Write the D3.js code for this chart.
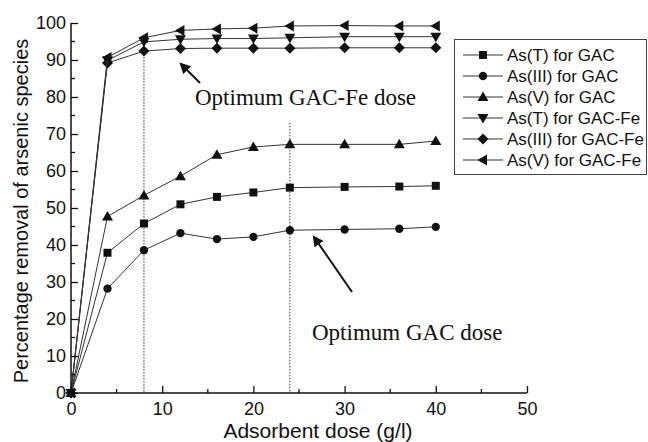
<!DOCTYPE html>
<html>
<head>
<meta charset="utf-8">
<script src="https://cdn.jsdelivr.net/npm/d3@7"></script>
<style>
  body { margin: 0; background: #fff; }
  svg { display: block; }
</style>
</head>
<body>
<div id="chart"></div>
<script>
// adsorbent doses (g/l)
const doses = [0, 4, 8, 12, 16, 20, 24, 30, 36, 40];

// percentage removal per series
const asTGac = [0, 37.9, 45.8, 51.0, 53.0, 54.2, 55.5, 55.7, 55.8, 56.0];
const asIIIGac = [0, 28.2, 38.6, 43.2, 41.6, 42.2, 44.0, 44.2, 44.4, 44.9];
const asVGac = [0, 47.7, 53.4, 58.6, 64.4, 66.5, 67.2, 67.2, 67.2, 68.1];
const asTGacFe = [0, 89.9, 94.9, 95.6, 95.8, 95.8, 96.0, 96.3, 96.3, 96.3];
const asIIIGacFe = [0, 89.2, 92.4, 93.1, 93.2, 93.2, 93.2, 93.3, 93.3, 93.3];
const asVGacFe = [0, 90.7, 96.0, 98.0, 98.4, 98.6, 99.2, 99.3, 99.2, 99.2];

const seriesNames = [
    "As(T) for GAC", "As(III) for GAC", "As(V) for GAC",
    "As(T) for GAC-Fe", "As(III) for GAC-Fe", "As(V) for GAC-Fe"
];
const seriesValues = [asTGac, asIIIGac, asVGac, asTGacFe, asIIIGacFe, asVGacFe];
const markerKinds = ["square", "circle", "up", "down", "diamond", "left"];

const xTicks = [0, 10, 20, 30, 40, 50];
const yTicks = [0, 10, 20, 30, 40, 50, 60, 70, 80, 90, 100];
const optimumDoses = [8, 24];

const width = 648, height = 442;
const margin = { top: 23, right: 121, bottom: 49, left: 71 };

const svg = d3.select("#chart")
    .append("svg")
    .attr("width", width)
    .attr("height", height);

const x = d3.scaleLinear().domain([0, 50]).range([margin.left, width - margin.right]);
const y = d3.scaleLinear().domain([0, 100]).range([height - margin.bottom, margin.top]);

const ink = "#111";
const sans = "Liberation Sans, Arial, sans-serif";

// marker shapes, drawn around (0,0)
function markerPath(kind) {
    switch (kind) {
        case "square": return "M-4,-4H4V4H-4Z";
        case "circle": return d3.symbol(d3.symbolCircle, 55)();
        case "up": return "M0,-5.5L5.5,4L-5.5,4Z";
        case "down": return "M0,5.5L5.5,-4L-5.5,-4Z";
        case "diamond": return "M0,-5.5L5.5,0L0,5.5L-5.5,0Z";
        case "left": return "M-5.5,0L4,-5.5L4,5.5Z";
    }
}

// optimum dose guides (dotted)
const guideTops = [92.4, 73];
svg.selectAll("line.guide")
    .data(optimumDoses)
    .enter()
    .append("line")
    .attr("class", "guide")
    .attr("x1", (d) => x(d))
    .attr("x2", (d) => x(d))
    .attr("y1", (d, i) => y(guideTops[i]))
    .attr("y2", y(0))
    .style("stroke", "#333")
    .style("stroke-width", 1)
    .style("stroke-dasharray", "1.5,1.5");

// series lines and markers
const line = d3.line()
    .x((d) => x(d[0]))
    .y((d) => y(d[1]));

seriesValues.forEach((vals, i) => {
    const pts = doses.map((d, j) => [d, vals[j]]);
    svg.append("path")
        .datum(pts)
        .attr("d", line)
        .style("fill", "none")
        .style("stroke", "#333")
        .style("stroke-width", 1);

    svg.selectAll("path.m" + i)
        .data(pts)
        .enter()
        .append("path")
        .attr("class", "m" + i)
        .attr("d", markerPath(markerKinds[i]))
        .attr("transform", (d) => `translate(${x(d[0])},${y(d[1])})`)
        .style("fill", ink);
});

// axes
const xAxis = d3.axisBottom(x)
    .tickValues(xTicks)
    .tickSize(-7)
    .tickPadding(9)
    .tickFormat(d3.format("d"));
const yAxis = d3.axisLeft(y)
    .tickValues(yTicks)
    .tickSize(-7)
    .tickPadding(5)
    .tickFormat(d3.format("d"));

const gx = svg.append("g")
    .attr("transform", `translate(0,${y(0)})`)
    .call(xAxis);
const gy = svg.append("g")
    .attr("transform", `translate(${x(0)},0)`)
    .call(yAxis);

[gx, gy].forEach((g) => {
    g.select(".domain").style("stroke", ink).style("stroke-width", 1.5);
    g.selectAll(".tick line").style("stroke", ink).style("stroke-width", 1.3);
    g.selectAll(".tick text")
        .style("font-family", sans)
        .style("font-size", "18px")
        .style("fill", ink);
});
gy.select(".domain").attr("d", `M0,${y(100)}V${y(0)}`);
gx.select(".domain").attr("d", `M${x(0)},0H${x(50)}`);

// minor ticks
const xMinor = d3.range(5, 50, 10);
const yMinor = d3.range(5, 100, 10);
svg.append("g").selectAll("line")
    .data(xMinor)
    .enter()
    .append("line")
    .attr("x1", (d) => x(d)).attr("x2", (d) => x(d))
    .attr("y1", y(0)).attr("y2", y(0) - 4)
    .style("stroke", ink).style("stroke-width", 1.3);
svg.append("g").selectAll("line")
    .data(yMinor)
    .enter()
    .append("line")
    .attr("x1", x(0)).attr("x2", x(0) + 4)
    .attr("y1", (d) => y(d)).attr("y2", (d) => y(d))
    .style("stroke", ink).style("stroke-width", 1.3);

// axis titles
svg.append("text")
    .attr("x", 318)
    .attr("y", 438)
    .attr("text-anchor", "middle")
    .style("font-family", sans)
    .style("font-size", "21px")
    .style("fill", ink)
    .text("Adsorbent dose (g/l)");

svg.append("text")
    .attr("transform", "translate(28,211) rotate(-90)")
    .attr("text-anchor", "middle")
    .style("font-family", sans)
    .style("font-size", "20px")
    .style("fill", ink)
    .text("Percentage removal of arsenic species");

// annotations
svg.append("defs").append("marker")
    .attr("id", "arrowhead")
    .attr("viewBox", "0 0 10 10")
    .attr("refX", 8).attr("refY", 5)
    .attr("markerWidth", 5.5).attr("markerHeight", 5.5)
    .attr("orient", "auto")
    .append("path")
    .attr("d", "M0,0L10,5L0,10Z")
    .style("fill", ink);

const notes = [
    { text: "Optimum GAC-Fe dose", tx: 195, ty: 105, from: [200, 83], to: [181, 64] },
    { text: "Optimum GAC dose", tx: 312, ty: 340, from: [352, 292], to: [314, 237] },
];
notes.forEach((n) => {
    svg.append("line")
        .attr("x1", n.from[0]).attr("y1", n.from[1])
        .attr("x2", n.to[0]).attr("y2", n.to[1])
        .style("stroke", ink)
        .style("stroke-width", 2)
        .attr("marker-end", "url(#arrowhead)");
    svg.append("text")
        .attr("x", n.tx).attr("y", n.ty)
        .style("font-family", "Liberation Serif, Times New Roman, serif")
        .style("font-size", "23px")
        .style("fill", ink)
        .text(n.text);
});

// legend
const legend = svg.append("g").attr("transform", "translate(454,39)");
legend.append("rect")
    .attr("x", 0.5).attr("y", 0.5)
    .attr("width", 192).attr("height", 135)
    .style("fill", "#fff")
    .style("stroke", "#444")
    .style("stroke-width", 1);

const rows = legend.selectAll("g.row")
    .data(seriesNames)
    .enter()
    .append("g")
    .attr("class", "row")
    .attr("transform", (d, i) => `translate(0,${16 + i * 21})`);
rows.append("line")
    .attr("x1", 9).attr("x2", 49)
    .style("stroke", "#333")
    .style("stroke-width", 1);
rows.append("path")
    .attr("d", (d, i) => markerPath(markerKinds[i]))
    .attr("transform", "translate(29,0)")
    .style("fill", ink);
rows.append("text")
    .attr("x", 53)
    .attr("y", 6)
    .style("font-family", sans)
    .style("font-size", "17px")
    .style("fill", ink)
    .text((d) => d);
</script>
</body>
</html>
